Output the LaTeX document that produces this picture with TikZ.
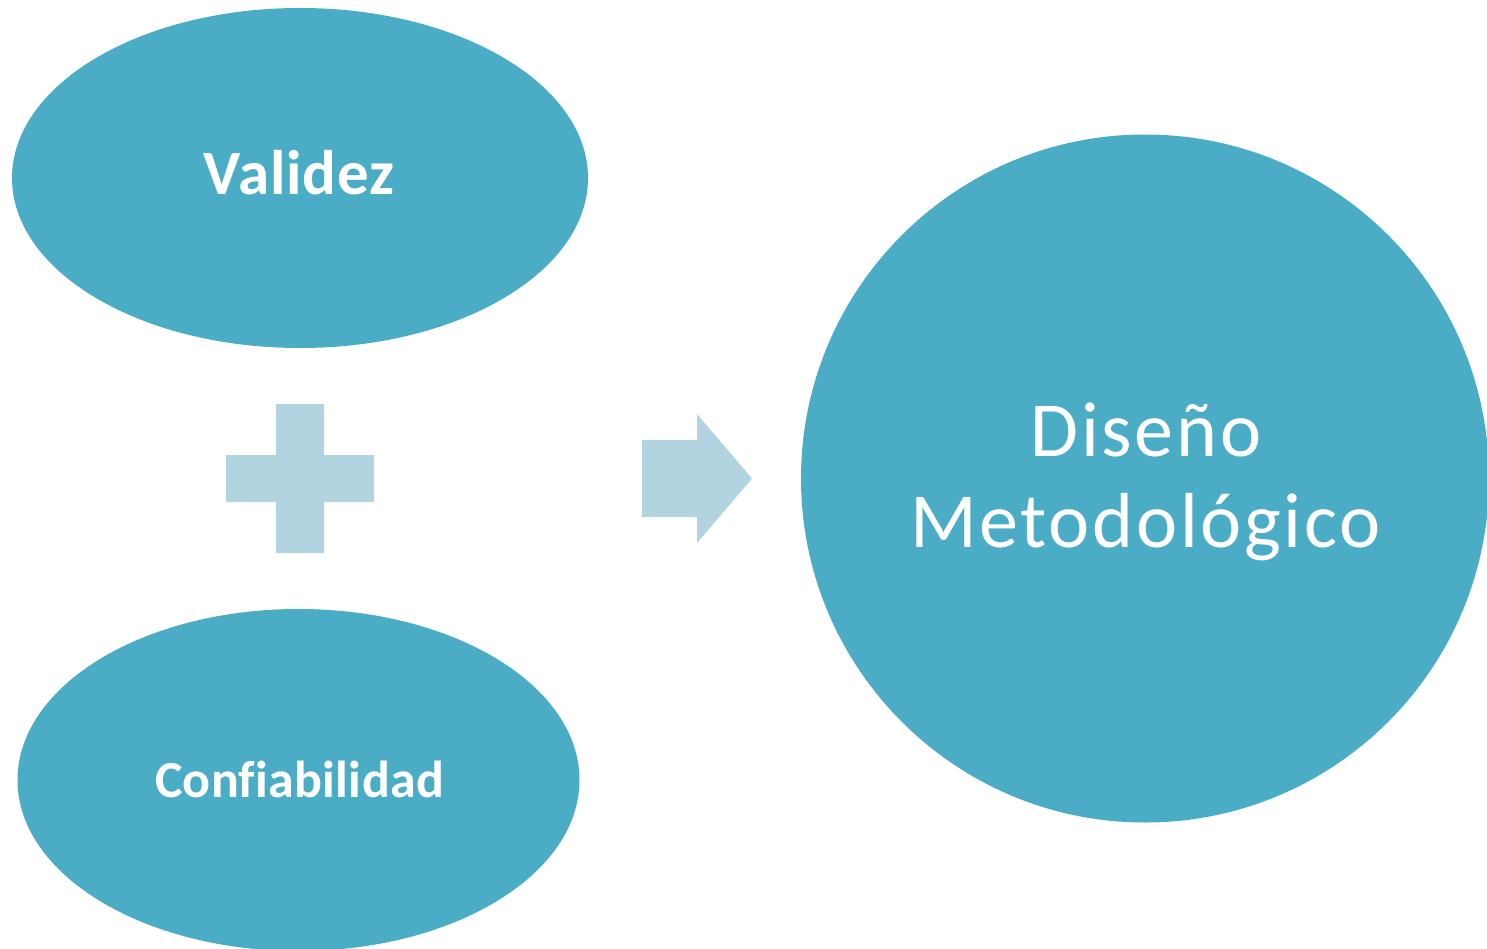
\documentclass[tikz,border=0pt]{standalone}
\usepackage{fontspec}
\setmainfont{Carlito}[Ligatures=NoCommon]
\newfontfamily\bigfont{Carlito}[Ligatures=NoCommon,LetterSpace=3.5]
\newfontfamily\valfont{Carlito}[Ligatures=NoCommon,LetterSpace=1.2]
\newfontfamily\conffont{Carlito}[Ligatures=NoCommon,LetterSpace=0.5]
\definecolor{mainblue}{HTML}{4BACC6}
\definecolor{lightblue}{HTML}{B1D4E0}
\begin{document}
\begin{tikzpicture}[x=1pt,y=-1pt,
  blob/.style={fill=mainblue,draw=none},
  accent/.style={fill=lightblue,draw=none},
  lbl/.style={text=white,anchor=base,inner sep=0pt}]
\useasboundingbox (0,0) rectangle (1487,949);
\begin{scope}
\clip (0,0) rectangle (1487,949);
\fill[blob] (300,178) ellipse [x radius=288, y radius=170];
\fill[blob] (298.5,780) ellipse [x radius=281, y radius=171];
\fill[blob] (1145,478.5) circle [radius=344];
\end{scope}
% plus sign
\fill[accent] (276,404) -- (324,404) -- (324,455) -- (374,455) -- (374,502) -- (324,502)
  -- (324,553) -- (276,553) -- (276,502) -- (226,502) -- (226,455) -- (276,455) -- cycle;
% arrow
\fill[accent] (642,440) -- (697,440) -- (697,414) -- (752,478.5) -- (697,543) -- (697,517) -- (642,517) -- cycle;
\node[lbl,font=\valfont\bfseries\fontsize{63}{75}\selectfont] (v) at (299,195) {Validez};
\node[lbl,font=\conffont\bfseries\fontsize{52}{62}\selectfont] (c) at (299.5,797) {Confiabilidad};
\node[lbl,font=\bigfont\fontsize{78}{92}\selectfont] (d1) at (1146,456) {Diseño};
\node[lbl,font=\bigfont\fontsize{78}{92}\selectfont] (d2) at (1145.5,547) {Metodológico};
\end{tikzpicture}
\end{document}
